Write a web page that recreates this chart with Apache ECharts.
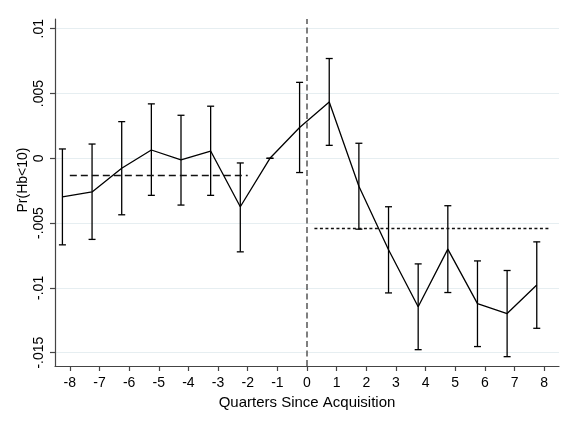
<!DOCTYPE html>
<html>
<head>
<meta charset="utf-8">
<script src="https://cdn.jsdelivr.net/npm/echarts@6/dist/echarts.min.js"></script>
<style>
  html, body { margin: 0; padding: 0; background: #ffffff; }
  #chart { width: 567px; height: 425px; }
</style>
</head>
<body>
<div id="chart"></div>
<script>
// Event-time positions (plotted slightly left of each quarter tick)
const quarterPos = [-8.25, -7.25, -6.25, -5.25, -4.25, -3.25, -2.25, -1.25, -0.25,
                    0.75, 1.75, 2.75, 3.75, 4.75, 5.75, 6.75, 7.75];
// Point estimates
const estimate = [-0.00297, -0.0026, -0.00077, 0.00064, -0.00013, 0.00056, -0.00374, 0, 0.00238,
                  0.00435, -0.00216, -0.00706, -0.01146, -0.00701, -0.01122, -0.01198, -0.00978];
// Confidence interval bounds
const ciLow  = [-0.00668, -0.00626, -0.00436, -0.00286, -0.00361, -0.00286, -0.00722, 0, -0.0011,
                0.001, -0.00547, -0.01039, -0.01477, -0.01036, -0.01453, -0.01531, -0.01312];
const ciHigh = [0.00072, 0.0011, 0.00283, 0.0042, 0.00332, 0.00402, -0.00036, 0, 0.00586,
                0.0077, 0.00116, -0.00374, -0.00815, -0.00366, -0.00792, -0.00866, -0.00645];
// Pre / post average reference lines
const preMean = -0.00128;
const preSpan = [-8, -2];
const postMean = -0.0054;
const postSpan = [0.25, 8.22];
// Axis ticks
const xTicks = [-8, -7, -6, -5, -4, -3, -2, -1, 0, 1, 2, 3, 4, 5, 6, 7, 8];
const yTicks = [-0.015, -0.01, -0.005, 0, 0.005, 0.01];
const yTickLabels = ['-.015', '-.01', '-.005', '0', '.005', '.01'];

const lineData = quarterPos.map((x, i) => [x, estimate[i]]);
const ciData = quarterPos.map((x, i) => [x, ciLow[i], ciHigh[i]]);

const FONT = '"Liberation Sans", Arial, sans-serif';

const chart = echarts.init(document.getElementById('chart'), null, { renderer: 'canvas' });
chart.setOption({
  backgroundColor: '#ffffff',
  animation: false,
  grid: { left: 55, right: 8, top: 19, bottom: 59, containLabel: false },
  xAxis: {
    type: 'value',
    min: -8.5,
    max: 8.5,
    name: 'Quarters Since Acquisition',
    nameLocation: 'middle',
    nameGap: 19,
    nameTextStyle: { fontFamily: FONT, fontSize: 15, color: '#000' },
    axisLine: { show: true, onZero: false, lineStyle: { color: '#444', width: 1.2 } },
    axisTick: { show: true, length: 5, customValues: xTicks, lineStyle: { color: '#444', width: 1.2 } },
    axisLabel: { customValues: xTicks, margin: 10, fontFamily: FONT, fontSize: 14, color: '#000',
                 formatter: v => String(v) },
    splitLine: { show: false }
  },
  yAxis: {
    type: 'value',
    min: -0.01603,
    max: 0.01075,
    axisLine: { show: true, onZero: false, lineStyle: { color: '#444', width: 1.2 } },
    axisTick: { show: true, length: 5, customValues: yTicks, lineStyle: { color: '#444', width: 1.2 } },
    axisLabel: {
      customValues: yTicks, rotate: 90, margin: 9, fontFamily: FONT, fontSize: 14, color: '#000',
      formatter: v => {
        let best = 0;
        yTicks.forEach((t, i) => { if (Math.abs(t - v) < Math.abs(yTicks[best] - v)) best = i; });
        return yTickLabels[best];
      }
    },
    splitLine: { show: true, lineStyle: { color: '#e6eef1', width: 1 } }
  },
  graphic: [{
    type: 'text',
    x: 23,
    y: 180,
    rotation: Math.PI / 2,
    style: { text: 'Pr(Hb<10)', fontFamily: FONT, fontSize: 14, fill: '#000',
             textAlign: 'center', textVerticalAlign: 'middle' }
  }],
  series: [
    {
      type: 'line',
      data: lineData,
      symbol: 'none',
      lineStyle: { color: '#000', width: 1.3 },
      z: 3,
      markLine: {
        silent: true,
        symbol: 'none',
        label: { show: false },
        animation: false,
        data: [
          [{ coord: [preSpan[0], preMean], lineStyle: { type: [7, 4], color: '#111', width: 1.3 } },
           { coord: [preSpan[1], preMean] }],
          [{ coord: [postSpan[0], postMean], lineStyle: { type: [3, 2.5], color: '#111', width: 1.3 } },
           { coord: [postSpan[1], postMean] }],
          { xAxis: 0, lineStyle: { type: [6, 3.5], color: '#555', width: 1.5 } }
        ]
      }
    },
    {
      type: 'custom',
      data: ciData,
      z: 4,
      renderItem: (params, api) => {
        const x = api.value(0);
        const lo = api.coord([x, api.value(1)]);
        const hi = api.coord([x, api.value(2)]);
        const cap = 3.5;
        const st = { stroke: '#000', lineWidth: 1.3 };
        return {
          type: 'group',
          children: [
            { type: 'line', shape: { x1: lo[0], y1: lo[1], x2: hi[0], y2: hi[1] }, style: st },
            { type: 'line', shape: { x1: lo[0] - cap, y1: lo[1], x2: lo[0] + cap, y2: lo[1] }, style: st },
            { type: 'line', shape: { x1: hi[0] - cap, y1: hi[1], x2: hi[0] + cap, y2: hi[1] }, style: st }
          ]
        };
      }
    }
  ]
});
</script>
</body>
</html>
